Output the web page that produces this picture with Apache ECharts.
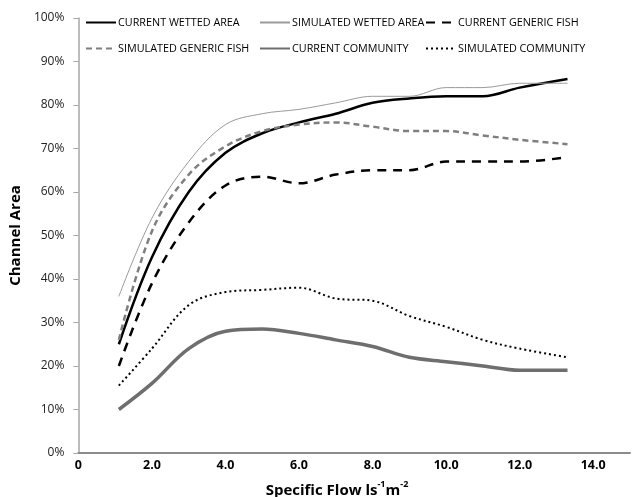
<!DOCTYPE html>
<html>
<head>
<meta charset="utf-8">
<script src="https://cdn.jsdelivr.net/npm/echarts@6/dist/echarts.min.js"></script>
<style>
  html, body { margin: 0; padding: 0; background: #fff; }
  #chart { width: 633px; height: 497px; }
</style>
</head>
<body>
<div id="chart"></div>
<script>
// specific flow (l s-1 m-2)
var flows = [1.1, 2, 3, 4, 5, 6, 7, 8, 9, 10, 11, 12, 13.3];

// channel area, percent
var currentWetted   = [25, 45, 60, 69, 73.5, 76, 78, 80.5, 81.5, 82, 82, 84, 86];
var simulatedWetted = [36, 54, 67, 75.5, 78, 79, 80.5, 82, 82, 84, 84, 85, 85];
var currentFish     = [20, 39, 53, 61.5, 63.5, 62, 64, 65, 65, 67, 67, 67, 68];
var simulatedFish   = [26, 51, 64, 70.5, 74, 75.5, 76, 75, 74, 74, 73, 72, 71];
var currentComm     = [10, 16, 24, 28, 28.5, 27.5, 26, 24.5, 22, 21, 20, 19, 19];
var simulatedComm   = [15.5, 24, 34, 37, 37.5, 38, 35.5, 35, 31.5, 29, 26, 24, 22];

var names = ['CURRENT WETTED AREA', 'SIMULATED WETTED AREA', 'CURRENT GENERIC FISH',
             'SIMULATED GENERIC FISH', 'CURRENT COMMUNITY', 'SIMULATED COMMUNITY'];

var font = '"Open Sans", "Liberation Sans", sans-serif';

function pairs(ys) {
    return ys.map(function (y, i) { return [flows[i], y]; });
}

function makeSeries(name, ys, color, width, type) {
    return {
        name: name,
        type: 'line',
        smooth: 0.35,
        showSymbol: false,
        symbol: 'none',
        data: pairs(ys),
        lineStyle: { color: color, width: width, type: type },
        itemStyle: { color: color }
    };
}

var legendPos = [[85, 17], [259, 17], [425, 17], [85, 43], [259, 43], [425, 43]];
var legends = names.map(function (n, i) {
    return {
        data: [n],
        left: legendPos[i][0],
        top: legendPos[i][1],
        itemWidth: 30,
        itemHeight: 12,
        itemGap: 2,
        padding: 0,
        itemStyle: { opacity: 0 },
        textStyle: { fontFamily: font, fontSize: 10.8, color: '#000', padding: [0, 0, 0, -3] }
    };
});

var myChart = echarts.init(document.getElementById('chart'));

var option = {
    backgroundColor: '#fff',
    animation: false,
    legend: legends,
    title: {
        text: '{b|Specific Flow ls}{s|-1}{b|m}{s|-2}',
        left: 332,
        top: 473,
        textAlign: 'center',
        textStyle: {
            rich: {
                b: { fontFamily: font, fontSize: 15, fontWeight: 'bold', color: '#000', lineHeight: 20, verticalAlign: 'bottom' },
                s: { fontFamily: font, fontSize: 9, fontWeight: 'bold', color: '#000', lineHeight: 20, verticalAlign: 'top', padding: [2, 0, 0, 0] }
            }
        }
    },
    grid: { left: 76, width: 559, top: 18, bottom: 44, containLabel: false },
    xAxis: {
        type: 'value',
        min: 0,
        max: 15,
        interval: 2,
        axisLine: { lineStyle: { color: '#8c8c8c', width: 2 } },
        axisTick: { show: false },
        splitLine: { show: false },
        axisLabel: {
            fontFamily: font,
            fontSize: 12.5,
            fontWeight: 'bold',
            color: '#000',
            margin: 6,
            formatter: function (v) {
                if (v === 0) return '0';
                if (v > 14) return '';
                return v.toFixed(1);
            }
        }
    },
    yAxis: {
        type: 'value',
        min: 0,
        max: 100,
        interval: 10,
        name: 'Channel Area',
        nameLocation: 'middle',
        nameGap: 43,
        nameTextStyle: { fontFamily: font, fontSize: 15, fontWeight: 'bold', color: '#000' },
        axisLine: { show: true, lineStyle: { color: '#a6a6a6', width: 1.5 } },
        axisTick: { show: true, length: 5, lineStyle: { color: '#a6a6a6' } },
        splitLine: { show: false },
        axisLabel: {
            fontFamily: font,
            fontSize: 12,
            color: '#222',
            margin: 14,
            formatter: '{value}%'
        }
    },
    series: [
        makeSeries(names[0], currentWetted, '#000000', 2.5, 'solid'),
        makeSeries(names[1], simulatedWetted, '#9a9a9a', 1, 'solid'),
        makeSeries(names[2], currentFish, '#000000', 2.5, [9, 7]),
        makeSeries(names[3], simulatedFish, '#7f7f7f', 2.5, [6, 4]),
        makeSeries(names[4], currentComm, '#6e6e6e', 3.5, 'solid'),
        makeSeries(names[5], simulatedComm, '#000000', 2, [2, 3])
    ]
};

myChart.setOption(option);
</script>
</body>
</html>
